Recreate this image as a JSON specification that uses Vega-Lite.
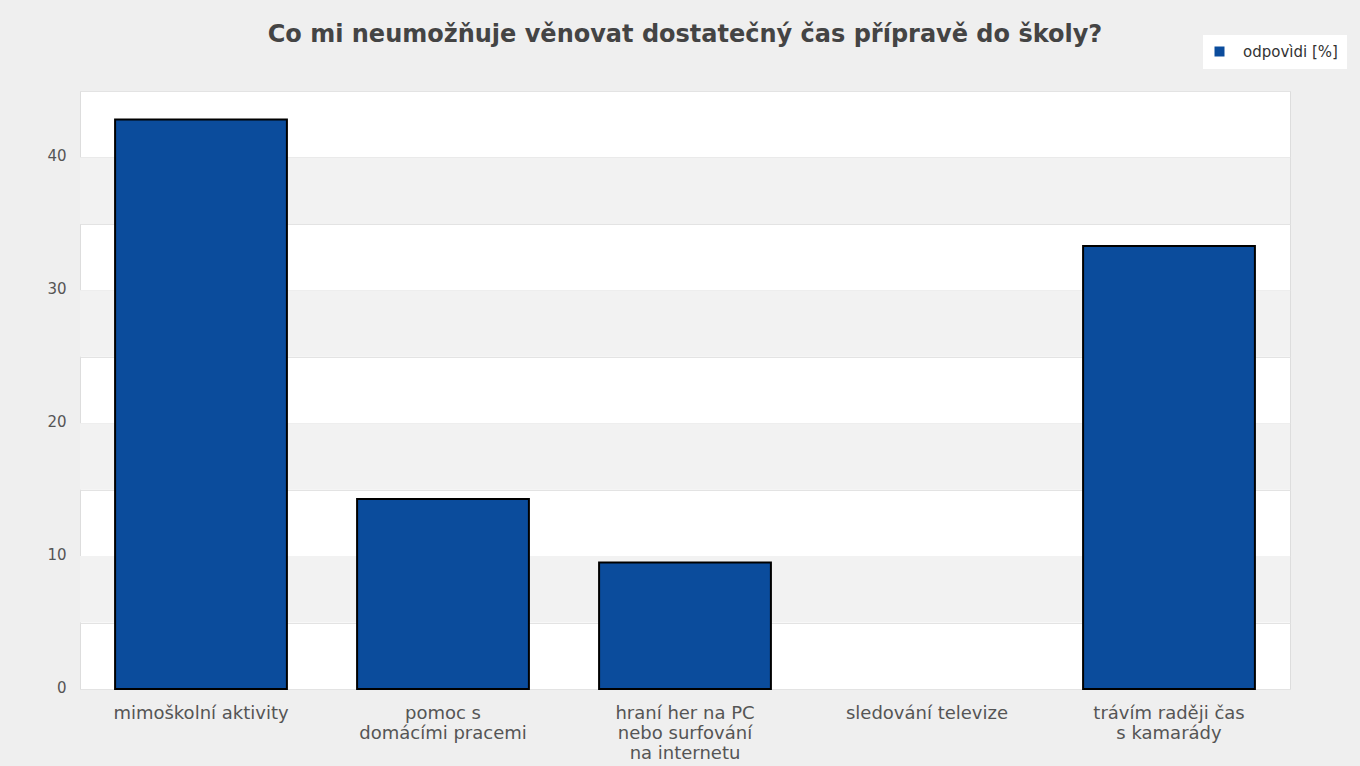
{
  "$schema": "https://vega.github.io/schema/vega-lite/v6.json",
  "width": 1210,
  "height": 598,
  "autosize": {"type": "none"},
  "padding": {"left": 80, "top": 91, "right": 70, "bottom": 77},
  "background": "#efefef",
  "title": {
    "text": "Co mi neumožňuje věnovat dostatečný čas přípravě do školy?",
    "font": "DejaVu Sans",
    "fontSize": 24,
    "fontWeight": "bold",
    "color": "#444444",
    "anchor": "middle",
    "frame": "group",
    "baseline": "alphabetic",
    "offset": 0,
    "dy": 31
  },
  "config": {
    "font": "DejaVu Sans",
    "view": {"stroke": "#dddddd", "fill": "#ffffff"}
  },
  "datasets": {
    "bars": [
      {"kategorie": "mimoškolní aktivity", "hodnota": 42.86},
      {"kategorie": "pomoc s\ndomácími pracemi", "hodnota": 14.29},
      {"kategorie": "hraní her na PC\nnebo surfování\nna internetu", "hodnota": 9.52},
      {"kategorie": "sledování televize", "hodnota": 0},
      {"kategorie": "trávím raději čas\ns kamarády", "hodnota": 33.33}
    ],
    "bands": [
      {"od": 5, "do": 10},
      {"od": 15, "do": 20},
      {"od": 25, "do": 30},
      {"od": 35, "do": 40}
    ]
  },
  "layer": [
    {
      "data": {"name": "bands"},
      "mark": {"type": "rect", "fill": "#f2f2f2"},
      "encoding": {
        "y": {"field": "od", "type": "quantitative", "scale": {"domain": [0, 45], "nice": false}},
        "y2": {"field": "do"}
      }
    },
    {
      "data": {"name": "bars"},
      "mark": {"type": "bar", "stroke": "#000000"},
      "encoding": {
        "x": {
          "field": "kategorie",
          "type": "nominal",
          "sort": null,
          "scale": {"paddingInner": 0.29, "paddingOuter": 0.145},
          "axis": {
            "title": null,
            "labelAngle": 0,
            "labelExpr": "split(datum.label, '\\n')",
            "labelFontSize": 18,
            "labelColor": "#555555",
            "labelLineHeight": 20,
            "labelPadding": 15,
            "labelBaseline": "top",
            "labelLimit": 300,
            "domain": false,
            "ticks": false
          }
        },
        "y": {
          "field": "hodnota",
          "type": "quantitative",
          "scale": {"domain": [0, 45], "nice": false},
          "axis": {
            "title": null,
            "values": [0, 5, 10, 15, 20, 25, 30, 35, 40, 45],
            "labelExpr": "datum.value % 10 == 0 ? datum.label : ''",
            "labelFontSize": 15,
            "labelColor": "#555555",
            "labelPadding": 14,
            "labelBaseline": "middle",
            "labelOffset": -2,
            "gridColor": "#e3e3e3",
            "domain": false,
            "ticks": false
          }
        },
        "strokeWidth": {
          "condition": {"test": "datum.hodnota == 0", "value": 0},
          "value": 2
        },
        "color": {
          "datum": "odpovìdi [%]",
          "type": "nominal",
          "scale": {"range": ["#0b4c9c"]},
          "legend": {
            "title": null,
            "orient": "none",
            "legendX": 1123,
            "legendY": -56,
            "fillColor": "#ffffff",
            "padding": 9,
            "symbolType": "square",
            "symbolSize": 100,
            "symbolStrokeWidth": 0,
            "labelFontSize": 15,
            "labelColor": "#333333",
            "labelOffset": 16
          }
        }
      }
    }
  ]
}
